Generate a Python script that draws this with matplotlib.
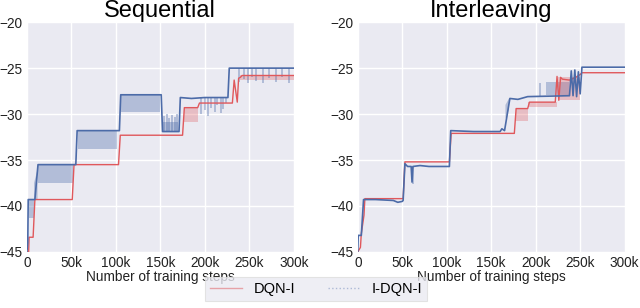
import numpy as np
import matplotlib
matplotlib.use("Agg")
import matplotlib.pyplot as plt
from matplotlib.ticker import FuncFormatter

plt.rcParams["font.family"] = ["Liberation Sans", "DejaVu Sans"]

BLUE = "#4C6BA8"
RED = "#E0585C"
BG = "#EAEAF2"

# ---- Sequential: mean curves (x in thousands of steps) ----
seq_blue_x = [0, 1, 1.5, 9, 12.5, 55, 56.5, 104, 105.5, 151, 152.5, 171, 172.5, 185, 200, 226, 227.5, 300]
seq_blue_y = [-45, -44, -39.3, -39.3, -35.5, -35.5, -31.8, -31.8, -27.9, -27.9, -31.9, -31.9, -28.2, -28.3, -28.2, -28.2, -25.0, -25.0]
seq_red_x = [0, 2, 2.5, 7, 9, 51, 53, 103, 105, 175, 177, 192, 194, 231, 233, 236.5, 238, 240, 242, 300]
seq_red_y = [-45, -45, -43.4, -43.4, -39.3, -39.3, -35.5, -35.5, -32.3, -32.3, -29.3, -29.3, -28.8, -28.8, -26.3, -28.7, -26.1, -26.0, -25.8, -25.8]

# spread bands (NaN breaks a band)
seq_bband_x = [2, 8, np.nan, 8, 12, np.nan, 12.5, 52, np.nan, 57, 101, np.nan, 106, 150, np.nan, 153, 170]
seq_bband_lo = [-41.3, -41.3, np.nan, -39.3, -39.3, np.nan, -37.5, -37.5, np.nan, -33.8, -33.8, np.nan, -29.8, -29.8, np.nan, -31.8, -31.8]
seq_bband_hi = [-39.3, -39.3, np.nan, -37.5, -36.0, np.nan, -35.5, -35.5, np.nan, -31.8, -31.8, np.nan, -27.9, -27.9, np.nan, -30.9, -30.9]
seq_rband_x = [177, 192, np.nan, 240, 300]
seq_rband_lo = [-30.9, -30.9, np.nan, -26.3, -26.3]
seq_rband_hi = [-29.3, -29.3, np.nan, -25.8, -25.8]

# noisy dips of the I-DQN-I runs
seq_spike_x = [154, 157, 160, 163, 166, 169, 196, 200, 204, 207, 211, 214, 218, 221, 224,
               239, 244, 248, 253, 258, 265, 272, 280, 287, 295]
seq_spike_lo = [-31.8, -31.8, -31.8, -31.8, -31.8, -31.8, -30.0, -29.6, -30.2, -29.3, -29.8, -29.0, -29.9, -29.5, -28.8,
                -26.5, -26.2, -26.6, -26.0, -26.4, -26.6, -26.1, -26.5, -26.0, -26.6]
seq_spike_hi = [-30.2, -30.0, -30.4, -30.1, -30.3, -30.0, -28.2, -28.2, -28.2, -28.2, -28.2, -28.2, -28.2, -28.2, -28.2,
                -25.0, -25.0, -25.0, -25.0, -25.0, -25.0, -25.0, -25.0, -25.0, -25.0]

# ---- Interleaving ----
il_blue_x = [0, 0.5, 4, 6.5, 20, 40, 45, 50, 51, 53, 56, 60, 61, 62, 70, 80, 103, 104.5, 130, 160, 162, 165, 171, 180,
             191, 238, 240, 242, 244, 246, 248, 250, 252, 300]
il_blue_y = [-45, -43.2, -43.2, -39.3, -39.3, -39.4, -39.6, -39.5, -39.4, -35.4, -35.7, -35.7, -37.4, -35.7, -35.6, -35.7,
             -35.7, -31.8, -31.9, -31.9, -31.6, -31.8, -28.3, -28.4, -28.1, -28.0, -25.3, -28.0, -25.2, -28.1, -25.4, -27.8,
             -24.9, -24.9]
il_red_x = [0, 3, 4, 7, 8, 51, 53, 103, 105, 176, 178, 191, 193, 222, 224, 226, 228, 230, 238, 245, 250, 252, 300]
il_red_y = [-45, -44.5, -43, -41, -39.2, -39.2, -35.2, -35.2, -32.1, -32.1, -29.4, -29.4, -28.7, -28.7, -25.9, -28.5,
            -26.0, -26.2, -26.3, -26.0, -25.7, -25.5, -25.5]

il_bband_x = [166, 170, np.nan, 212, 238]
il_bband_lo = [-30.5, -29.5, np.nan, -27.9, -27.9]
il_bband_hi = [-29.0, -28.3, np.nan, -26.5, -26.5]
il_rband_x = [178, 191, np.nan, 191, 224, np.nan, 225, 250]
il_rband_lo = [-30.8, -30.8, np.nan, -29.2, -29.2, np.nan, -28.5, -28.5]
il_rband_hi = [-29.4, -29.4, np.nan, -28.7, -28.7, np.nan, -26.0, -26.0]

il_spike_x = [62, 205]
il_spike_lo = [-37.6, -28.0]
il_spike_hi = [-35.7, -26.6]

x_ticks = [0, 50, 100, 150, 200, 250, 300]


def kfmt(v, _):
    return "0" if v == 0 else f"{v:.0f}k"


def panel(ax, title, bx, by, rx, ry, bbx, bblo, bbhi, rbx, rblo, rbhi, sx, slo, shi):
    ax.set_facecolor(BG)
    for s in ax.spines.values():
        s.set_visible(False)
    ax.grid(True, color="white", linewidth=1.0)
    ax.set_axisbelow(True)
    ax.fill_between(bbx, bblo, bbhi, color=BLUE, alpha=0.35, linewidth=0)
    ax.fill_between(rbx, rblo, rbhi, color=RED, alpha=0.3, linewidth=0)
    ax.vlines(sx, slo, shi, color=BLUE, alpha=0.4, linewidth=1.3)
    ax.plot(rx, ry, color=RED, linewidth=1.0, zorder=3)
    ax.plot(bx, by, color=BLUE, linewidth=1.2, zorder=4)
    ax.set_xlim(0, 300)
    ax.set_ylim(-45, -20)
    ax.set_xticks(x_ticks)
    ax.set_yticks([-45, -40, -35, -30, -25, -20])
    ax.xaxis.set_major_formatter(FuncFormatter(kfmt))
    ax.tick_params(length=0, labelsize=9.8, pad=3, colors="#222222")
    ax.set_xlabel("Number of training steps", fontsize=9.8, labelpad=0, color="#222222")
    ax.set_title(title, fontsize=17, pad=2)


fig = plt.figure(figsize=(6.4, 3.08), dpi=100)
ax1 = fig.add_axes([0.042, 0.182, 0.417, 0.746])
ax2 = fig.add_axes([0.559, 0.182, 0.417, 0.746])

panel(ax1, "Sequential", seq_blue_x, seq_blue_y, seq_red_x, seq_red_y,
      seq_bband_x, seq_bband_lo, seq_bband_hi, seq_rband_x, seq_rband_lo, seq_rband_hi,
      seq_spike_x, seq_spike_lo, seq_spike_hi)
panel(ax2, "Interleaving", il_blue_x, il_blue_y, il_red_x, il_red_y,
      il_bband_x, il_bband_lo, il_bband_hi, il_rband_x, il_rband_lo, il_rband_hi,
      il_spike_x, il_spike_lo, il_spike_hi)

h_red, = ax1.plot([], [], color=RED, alpha=0.5, linewidth=1.0)
h_blue, = ax1.plot([], [], color=BLUE, alpha=0.4, linewidth=1.0, linestyle=":")
leg = fig.legend([h_red, h_blue], ["DQN-I", "I-DQN-I"], loc="lower center",
                 bbox_to_anchor=(0.494, 0.0), ncol=2, fontsize=10.5, frameon=True,
                 handlelength=2.2, columnspacing=2.2, borderpad=0.35, fancybox=False)
leg.get_frame().set_facecolor(BG)
leg.get_frame().set_edgecolor("#DDDDDD")
leg.get_frame().set_linewidth(0.8)

fig.savefig("out.png", dpi=100)
